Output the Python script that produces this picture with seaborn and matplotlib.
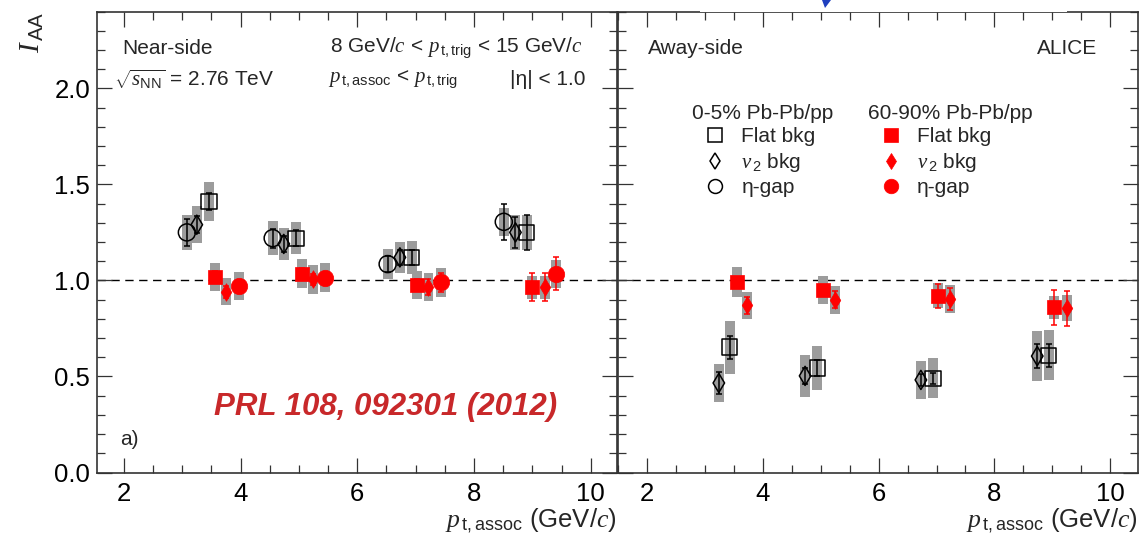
import numpy as np
import pandas as pd
import matplotlib
matplotlib.use("Agg")
import matplotlib.pyplot as plt
import seaborn as sns
from matplotlib.lines import Line2D
from matplotlib.patches import Rectangle, Polygon
from matplotlib.ticker import MultipleLocator

# ---------------- data: near-side ----------------
near_flat05_x = [3.46, 4.95, 6.93, 8.90]
near_flat05_y = [1.41, 1.22, 1.12, 1.25]
near_flat05_stat = [0.046, 0.04, 0.04, 0.09]
near_flat05_sys = [0.10, 0.085, 0.084, 0.09]

near_v205_x = [3.25, 4.74, 6.73, 8.71]
near_v205_y = [1.29, 1.19, 1.12, 1.25]
near_v205_stat = [0.045, 0.04, 0.04, 0.08]
near_v205_sys = [0.095, 0.085, 0.082, 0.09]

near_eta05_x = [3.08, 4.55, 6.52, 8.51]
near_eta05_y = [1.25, 1.22, 1.085, 1.305]
near_eta05_stat = [0.07, 0.05, 0.04, 0.095]
near_eta05_sys = [0.09, 0.09, 0.078, 0.072]

near_flat6090_x = [3.56, 5.05, 7.03, 9.00]
near_flat6090_y = [1.02, 1.035, 0.975, 0.965]
near_flat6090_stat = [0.03, 0.03, 0.03, 0.073]
near_flat6090_sys = [0.073, 0.075, 0.072, 0.06]

near_v26090_x = [3.75, 5.24, 7.22, 9.21]
near_v26090_y = [0.94, 1.005, 0.965, 0.965]
near_v26090_stat = [0.03, 0.03, 0.04, 0.073]
near_v26090_sys = [0.07, 0.075, 0.072, 0.06]

near_eta6090_x = [3.97, 5.44, 7.43, 9.41]
near_eta6090_y = [0.97, 1.015, 0.99, 1.035]
near_eta6090_stat = [0.03, 0.03, 0.05, 0.086]
near_eta6090_sys = [0.072, 0.074, 0.074, 0.073]

# ---------------- data: away-side ----------------
away_flat05_x = [3.43, 4.94, 6.94, 8.94]
away_flat05_y = [0.653, 0.544, 0.49, 0.61]
away_flat05_stat = [0.06, 0.04, 0.03, 0.059]
away_flat05_sys = [0.138, 0.114, 0.104, 0.13]

away_v205_x = [3.24, 4.73, 6.73, 8.74]
away_v205_y = [0.466, 0.503, 0.482, 0.606]
away_v205_stat = [0.058, 0.04, 0.03, 0.062]
away_v205_sys = [0.098, 0.108, 0.10, 0.13]

away_flat6090_x = [3.55, 5.04, 7.03, 9.03]
away_flat6090_y = [0.99, 0.948, 0.92, 0.86]
away_flat6090_stat = [0.03, 0.03, 0.063, 0.092]
away_flat6090_sys = [0.078, 0.073, 0.065, 0.06]

away_v26090_x = [3.73, 5.25, 7.23, 9.25]
away_v26090_y = [0.87, 0.90, 0.905, 0.855]
away_v26090_stat = [0.045, 0.043, 0.058, 0.09]
away_v26090_sys = [0.07, 0.073, 0.073, 0.067]

x_ticks = [2, 4, 6, 8, 10]
y_ticks = [0.0, 0.5, 1.0, 1.5, 2.0]

# ---------------- styles ----------------
GRAY = "#9c9c9c"
RED = "#ff0000"
styles = {
    "flat05": dict(m="s", s=120, fc="none", ec="black", lw=1.1),
    "v205": dict(m="d", s=95, fc="none", ec="black", lw=1.1),
    "eta05": dict(m="o", s=150, fc="none", ec="black", lw=1.1),
    "flat6090": dict(m="s", s=110, fc=RED, ec=RED, lw=0.5),
    "v26090": dict(m="d", s=80, fc=RED, ec=RED, lw=0.5),
    "eta6090": dict(m="o", s=140, fc=RED, ec=RED, lw=0.5),
}


def frame(prefix, name):
    g = globals()
    return pd.DataFrame({
        "x": g[f"{prefix}_{name}_x"], "y": g[f"{prefix}_{name}_y"],
        "stat": g[f"{prefix}_{name}_stat"], "sys": g[f"{prefix}_{name}_sys"],
    })


near = {n: frame("near", n) for n in ["flat05", "v205", "eta05", "flat6090", "v26090", "eta6090"]}
away = {n: frame("away", n) for n in ["flat05", "v205", "flat6090", "v26090"]}

sns.set_theme(style="ticks")
plt.rcParams["font.family"] = ["Liberation Sans", "DejaVu Sans"]
plt.rcParams["mathtext.fontset"] = "custom"
plt.rcParams["mathtext.rm"] = "Liberation Sans"
plt.rcParams["mathtext.sf"] = "Liberation Sans"
plt.rcParams["mathtext.it"] = "Liberation Serif:italic"
plt.rcParams["mathtext.bf"] = "Liberation Sans:bold"

fig = plt.figure(figsize=(11.4, 5.42), dpi=100)
B = 1 - 472.5 / 542
H = 461 / 542
axL = fig.add_axes([97 / 1140, B, 520 / 1140, H])
axR = fig.add_axes([617.5 / 1140, B, 520.5 / 1140, H], sharey=axL)


def draw(ax, data):
    for name, d in data.items():
        st = styles[name]
        ax.bar(d["x"], 2 * d["sys"], bottom=d["y"] - d["sys"], width=0.17,
               color=GRAY, linewidth=0, zorder=1)
        sns.scatterplot(data=d, x="x", y="y", marker=st["m"], s=st["s"],
                        facecolor=st["fc"], edgecolor=st["ec"], linewidth=st["lw"],
                        ax=ax, zorder=3, legend=False)
        ax.errorbar(d["x"], d["y"], yerr=d["stat"], fmt="none", ecolor=st["ec"],
                    elinewidth=1.1, capsize=2.5, capthick=1.1, zorder=4)
    ax.axhline(1.0, color="black", lw=1.0, ls=(0, (6, 4)), zorder=0.5)


draw(axL, near)
draw(axR, away)

for ax, xl in ((axL, (1.54, 10.45)), (axR, (1.49, 10.48))):
    ax.set_xlim(*xl)
    ax.set_ylim(0, 2.4)
    ax.set_xticks(x_ticks)
    ax.xaxis.set_minor_locator(MultipleLocator(0.5))
    ax.yaxis.set_minor_locator(MultipleLocator(0.1))
    ax.tick_params(which="both", direction="in", top=True, right=True,
                   width=0.9, colors="#333333", labelcolor="black")
    ax.tick_params(which="major", length=11, labelsize=18.5)
    ax.tick_params(axis="x", which="major", pad=7)
    ax.tick_params(axis="y", which="major", pad=5)
    ax.tick_params(which="minor", length=5.5)
    for sp in ax.spines.values():
        sp.set_linewidth(1.2)
        sp.set_color("#333333")
    ax.set_xlabel(r"$p_{\,\mathrm{t,assoc}}$ (GeV/$c$)", fontsize=18.5, loc="right",
                  labelpad=0)
    ax.set_ylabel("")

axL.set_yticks(y_ticks)
axL.set_yticklabels([f"{v:.1f}" for v in y_ticks])
axR.tick_params(axis="y", labelleft=False)
axL.set_ylabel(r"$I_{\,\mathrm{AA}}$", fontsize=21, loc="top", labelpad=6)

# ---- annotations: near side
fs = 15
axL.text(0.048, 0.92, "Near-side", transform=axL.transAxes, fontsize=fs, va="center")
axL.text(0.033, 0.852, r"$\sqrt{s_{\mathrm{NN}}}$ = 2.76 TeV", transform=axL.transAxes,
         fontsize=fs, va="center")
axL.text(0.448, 0.92, r"8 GeV/$c$ < $p_{\,\mathrm{t,trig}}$ < 15 GeV/$c$",
         transform=axL.transAxes, fontsize=fs, va="center")
axL.text(0.444, 0.852, r"$p_{\,\mathrm{t,assoc}}$ < $p_{\,\mathrm{t,trig}}$",
         transform=axL.transAxes, fontsize=fs, va="center")
axL.text(0.794, 0.852, "|η| < 1.0", transform=axL.transAxes, fontsize=fs, va="center")
axL.text(0.044, 0.072, "a)", transform=axL.transAxes, fontsize=fs, va="center")
axL.text(0.555, 0.143, "PRL 108, 092301 (2012)", transform=axL.transAxes,
         fontsize=22.5, fontweight="bold", fontstyle="italic", color="#c8282a",
         ha="center", va="center")

# ---- annotations: away side
axR.text(0.058, 0.92, "Away-side", transform=axR.transAxes, fontsize=fs, va="center")
axR.text(0.921, 0.92, "ALICE", transform=axR.transAxes, fontsize=fs, va="center", ha="right")


def handle(name, ms):
    st = styles[name]
    return Line2D([], [], ls="none", marker=st["m"], ms=ms,
                  mfc=st["fc"], mec=st["ec"], mew=st["lw"] if st["fc"] == "none" else 0.5)


leg_labels = ["Flat bkg", r"$v_{\,2}$ bkg", "η-gap"]
leg1 = axR.legend([handle("flat05", 9.5), handle("v205", 8.5), handle("eta05", 10)],
                  leg_labels, title="0-5% Pb-Pb/pp", loc="upper left",
                  bbox_to_anchor=(0.144, 0.80), frameon=False, fontsize=fs,
                  title_fontsize=fs, alignment="left", borderpad=0, borderaxespad=0,
                  handlelength=2.2, handletextpad=0.15, labelspacing=0.22)
axR.add_artist(leg1)
axR.legend([handle("flat6090", 10), handle("v26090", 8.5), handle("eta6090", 10.5)],
           leg_labels, title="60-90% Pb-Pb/pp", loc="upper left",
           bbox_to_anchor=(0.482, 0.80), frameon=False, fontsize=fs,
           title_fontsize=fs, alignment="left", borderpad=0, borderaxespad=0,
           handlelength=2.2, handletextpad=0.15, labelspacing=0.22)

# ---- screenshot overlay remnants at the top edge
fig.patches.append(Rectangle((700 / 1140, 1 - 12 / 542), 367 / 1140, 12 / 542,
                             transform=fig.transFigure, facecolor="white",
                             edgecolor="none", zorder=10))
fig.patches.append(Polygon([[822 / 1140, 1.0], [831 / 1140, 1.0], [825 / 1140, 1 - 8 / 542]],
                           closed=True, transform=fig.transFigure, facecolor="#1f3fbf",
                           edgecolor="none", zorder=11))

fig.savefig("out.png", dpi=100)
